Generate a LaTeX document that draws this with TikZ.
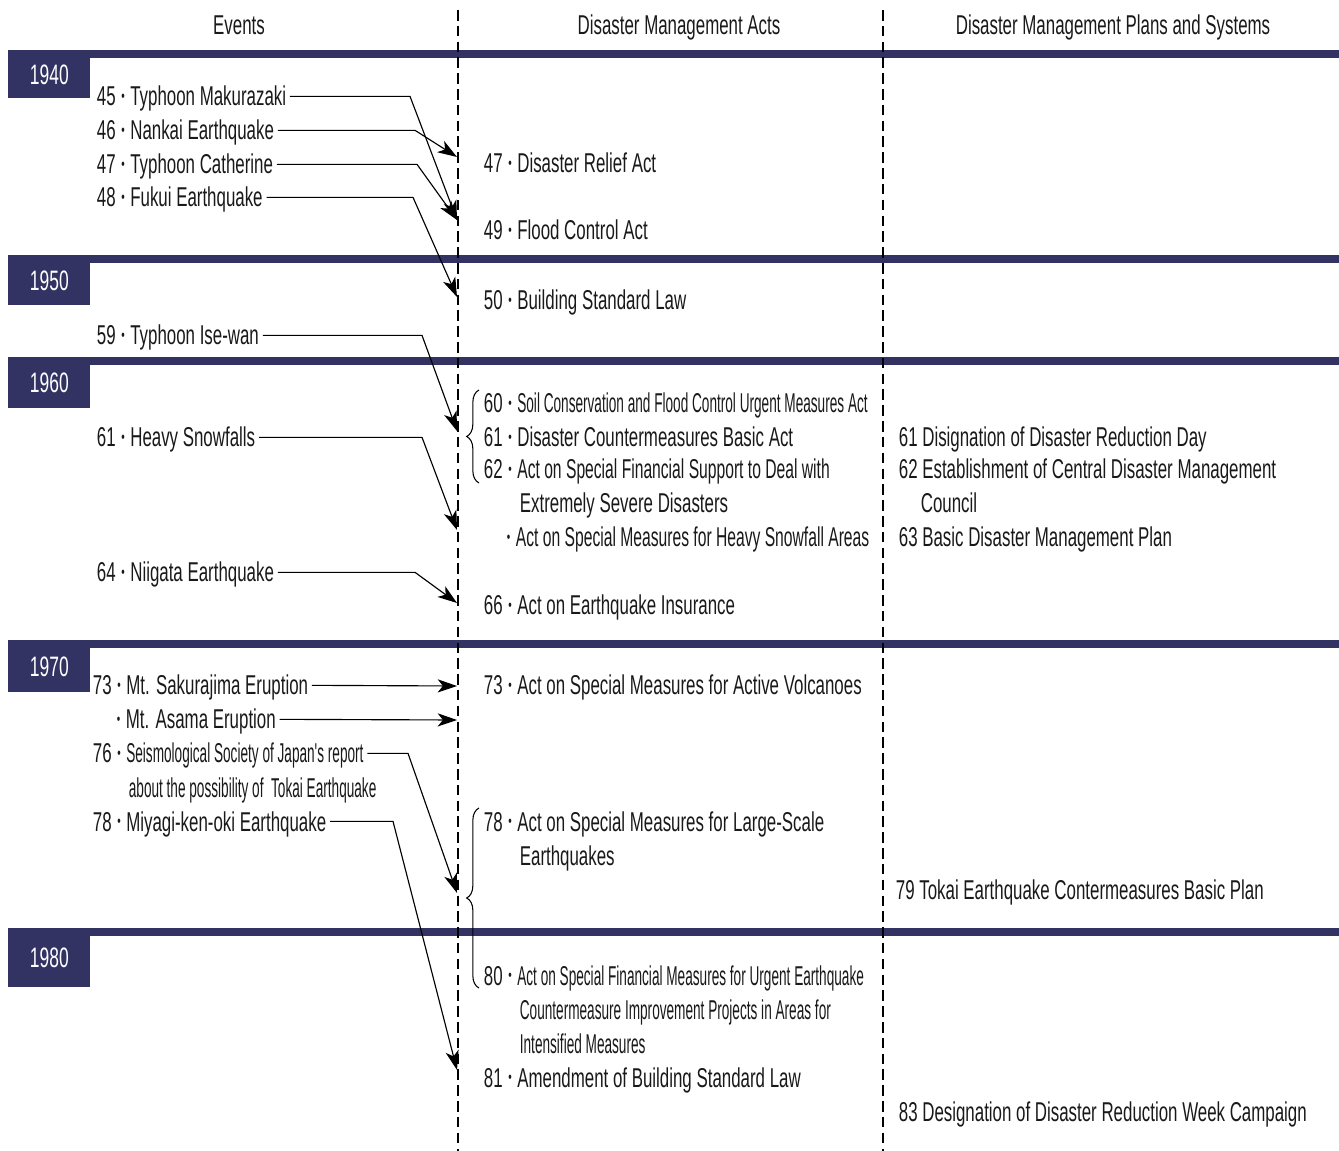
\documentclass[tikz,border=0pt]{standalone}
\usepackage{fontspec}
\setmainfont[FakeStretch=0.62]{Liberation Sans}
\newfontfamily\nrw[FakeStretch=0.5]{Liberation Sans}
\newfontfamily\cnd[FakeStretch=0.575]{Liberation Sans}
\usepackage{xcolor}
\usepackage{tikz}
\usetikzlibrary{arrows.meta,decorations.pathreplacing}
\definecolor{navy}{RGB}{50,51,99}
\newcommand{\dotmark}{\raisebox{2.4pt}{\fontsize{9}{9}\selectfont •}}
\newcommand{\bul}{\hspace{3.2pt}\dotmark\hspace{3.2pt}}

\begin{document}
\begin{tikzpicture}[x=0.02cm,y=-0.02cm,
    txt/.style={anchor=base west,inner sep=2pt,text height=11pt,text depth=0pt,font=\fontsize{15.5}{19}\selectfont,text=black!90},
    head/.style={anchor=base,inner sep=2pt,font=\fontsize{15.5}{19}\selectfont,text=black!90},
    yr/.style={fill=navy,text=white,anchor=north west,minimum width=1.64cm,inner sep=0pt,text height=11pt,text depth=0pt,font=\fontsize{16}{19}\selectfont},
    arr/.style={-{Stealth[length=11pt,width=7.5pt,inset=3pt]},line width=0.65pt},
    sep/.style={line width=0.8pt,dash pattern=on 6pt off 3pt},
    brc/.style={decorate,decoration={brace,amplitude=7pt},line width=0.6pt}
  ]
  \useasboundingbox (0,0) rectangle (1339,1151);
  \node[head] (hev) at (239,35) {Events};
  \node[head] (hact) at (679,35) {Disaster Management Acts};
  \node[head] (hplan) at (1113,35) {Disaster Management Plans and Systems};
  \foreach \t/\h/\yy in {50/48/1940,255/50/1950,357/51/1960,640/52/1970,928/59/1980}{
    \fill[navy] (8,\t) rectangle (1339,\t+8);
    \node[yr,minimum height=\h*0.02cm] (y\yy) at (8,\t) {\yy};
  }
  \draw[sep] (458,10) -- (458,1151);
  \draw[sep] (883,10) -- (883,1151);
  \foreach \n/\x/\b/\t in {e45/93/106/{45\bul Typhoon Makurazaki},e46/93/140/{46\bul Nankai Earthquake},
      e47/93/174/{47\bul Typhoon Catherine},e48/93/207/{48\bul Fukui Earthquake},
      e59/93/345/{59\bul Typhoon Ise-wan},e61/93/447/{61\bul Heavy Snowfalls},
      e64/93/582/{64\bul Niigata Earthquake},e73/89/695/{73\bul Mt. Sakurajima Eruption},
      e73b/113/729/{\dotmark\hspace{3.2pt}Mt. Asama Eruption},e76/89/763/{76\bul{\nrw Seismological Society of Japan's report}},
      e76b/125/797/{\nrw about the possibility of\ \ Tokai Earthquake},e78/89/831/{78\bul Miyagi-ken-oki Earthquake}}{
    \node[txt] (\n) at (\x,\b) {\t};
  }
  \foreach \n/\x/\b/\t in {a47/480/173/{47\bul Disaster Relief Act},a49/480/240/{49\bul Flood Control Act},
      a50/480/310/{50\bul Building Standard Law},a60/480/413/{60\bul{\nrw Soil Conservation and Flood Control Urgent Measures Act}},
      a61/480/447/{61\bul Disaster Countermeasures Basic Act},a62/480/479/{62\bul{\cnd Act on Special Financial Support to Deal with}},
      a62b/516/513/{Extremely Severe Disasters},a62c/503/547/{\dotmark\hspace{3.2pt}{\cnd Act on Special Measures for Heavy Snowfall Areas}},
      a66/480/615/{66\bul Act on Earthquake Insurance},a73/480/695/{73\bul Act on Special Measures for Active Volcanoes},
      a78/480/831/{78\bul Act on Special Measures for Large-Scale},a78b/516/865/{Earthquakes},
      a80/480/985/{80\bul{\nrw Act on Special Financial Measures for Urgent Earthquake}},
      a80b/516/1019/{\nrw Countermeasure Improvement Projects in Areas for},a80c/516/1053/{\nrw Intensified Measures},
      a81/480/1087/{81\bul Amendment of Building Standard Law}}{
    \node[txt] (\n) at (\x,\b) {\t};
  }
  \foreach \n/\x/\b/\t in {p61/895/447/{61 Disignation of Disaster Reduction Day},p62/895/479/{62 Establishment of Central Disaster Management},
      p62b/917/513/{Council},p63/895/547/{63 Basic Disaster Management Plan},
      p79/892/899/{79 Tokai Earthquake Contermeasures Basic Plan},p83/895/1121/{83 Designation of Disaster Reduction Week Campaign}}{
    \node[txt] (\n) at (\x,\b) {\t};
  }
  \foreach \n/\yy in {t47/157,t49/220,t50/297,tb60/431,tsnow/530,t66/603,t73/686,t73b/720,tb78/893,t81/1070}{
    \coordinate (\n) at (457,\yy);
  }
  \foreach \n/\k/\t in {e45/410/t49,e46/415/t47,e47/417/t49,e48/413/t50,e59/422/tb60,
      e61/422/tsnow,e64/415/t66,e76/408/tb78,e78/393/t81}{
    \draw[arr] (\n.east) -- (\k,0 |- \n.east) -- (\t);
  }
  \draw[arr] (e73.east) -- (t73);
  \draw[arr] (e73b.east) -- (t73b);
  \draw[brc] (479,483) -- (479,390);
  \draw[brc] (479,988) -- (479,808);
\end{tikzpicture}
\end{document}
